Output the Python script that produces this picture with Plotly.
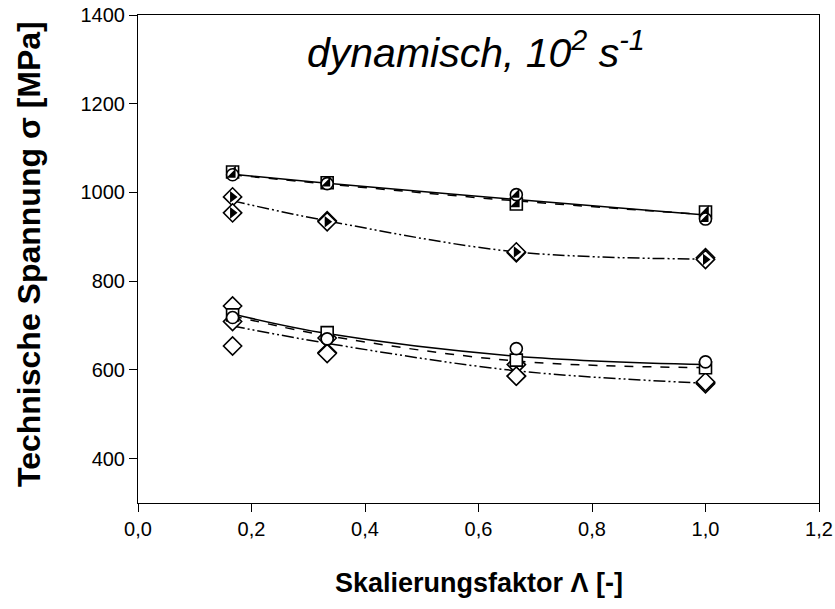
import plotly.graph_objects as go

# ---- data ----
x_pts = [1/6, 1/3, 2/3, 1.0]

# upper cluster (half-filled markers)
sq_hf = [1046, 1022, 974, 956]
ci_hf = [1040, 1020, 995, 940]
di_hf_a = [990, 936, 864, 853]
di_hf_b = [954, 934, 866, 849]

# lower cluster (open markers)
sq_open = [724, 684, 622, 605]
ci_open = [718, 670, 648, 618]
di_open_a = [744, 672, 612, 571]
di_open_b = [709, 639, 586, 569]
di_open_c = [654, 637, 586, 573]

# fit curves
fit_x = [1/6, 1/3, 2/3, 1.0]
fit_up_solid = [1041, 1021, 984, 949]
fit_up_dash = [1040, 1019, 981, 950]
fit_up_dd = [981, 936, 866, 850]
fit_lo_solid = [726, 682, 631, 612]
fit_lo_dash = [722, 677, 620, 605]
fit_lo_dd = [699, 660, 598, 570]

x_ticks = [0.0, 0.2, 0.4, 0.6, 0.8, 1.0, 1.2]
x_ticktext = ["0,0", "0,2", "0,4", "0,6", "0,8", "1,0", "1,2"]
y_ticks = [400, 600, 800, 1000, 1200, 1400]

fig = go.Figure()

DD = "12px,3px,2px,3px,2px,3px"

def fit(y, dash):
    fig.add_trace(go.Scatter(x=fit_x, y=y, mode="lines", line_shape="spline",
                             line=dict(color="black", width=1.5, dash=dash),
                             hoverinfo="skip", showlegend=False))

fit(fit_up_solid, "solid")
fit(fit_up_dash, "dash")
fit(fit_up_dd, DD)
fit(fit_lo_solid, "solid")
fit(fit_lo_dash, "dash")
fit(fit_lo_dd, DD)

def markers(y, symbol, size=11, half=None, half_size=None):
    fig.add_trace(go.Scatter(x=x_pts, y=y, mode="markers",
                             marker=dict(symbol=symbol, size=size, color="white",
                                         line=dict(color="black", width=1.6)),
                             showlegend=False))
    if half:
        fig.add_trace(go.Scatter(x=x_pts, y=y, mode="markers",
                                 marker=dict(symbol=half, size=half_size or size - 2,
                                             color="black", line=dict(width=0)),
                                 showlegend=False))

markers(di_hf_a, "diamond", 14, "triangle-right", 10)
markers(di_hf_b, "diamond", 14, "triangle-right", 10)
markers(sq_hf, "square", 12, "triangle-se", 11)
markers(ci_hf, "circle", 12, "triangle-se", 10)

markers(di_open_a, "diamond", 14)
markers(di_open_b, "diamond", 14)
markers(di_open_c, "diamond", 14)
markers(sq_open, "square", 12)
markers(ci_open, "circle", 12)

FONT = "Liberation Sans, Arial"

# plot area in window pixels: x 138..819, y 15..503
fig.add_annotation(text="<i>dynamisch, 10<sup>2</sup> s<sup>-1</sup></i>",
                   x=(476 - 138) / 681, y=(503 - 50) / 488, xref="paper", yref="paper",
                   showarrow=False, xanchor="center", yanchor="middle",
                   font=dict(family=FONT, size=41, color="black"))

fig.add_annotation(text="<b>Skalierungsfaktor Λ [-]</b>",
                   x=0.5, y=(503 - 583) / 488, xref="paper", yref="paper",
                   showarrow=False, xanchor="center", yanchor="middle",
                   font=dict(family=FONT, size=27, color="black"))

fig.add_annotation(text="<b>Technische Spannung σ [MPa]</b>", textangle=-90,
                   x=(29 - 138) / 681, y=(503 - 254) / 488, xref="paper", yref="paper",
                   showarrow=False, xanchor="center", yanchor="middle",
                   font=dict(family=FONT, size=32, color="black"))

fig.update_layout(
    width=835, height=609,
    margin=dict(l=138, r=16, t=15, b=106, autoexpand=False),
    plot_bgcolor="white", paper_bgcolor="white",
    font=dict(family=FONT, color="black"),
    showlegend=False,
    hovermode=False,
    xaxis=dict(range=[0, 1.2], tickvals=x_ticks, ticktext=x_ticktext,
               ticks="outside", ticklen=8, tickwidth=1, tickcolor="black",
               showline=True, linecolor="black", linewidth=1, mirror=True,
               showgrid=False, zeroline=False, automargin=False,
               ticklabeloverflow="allow",
               tickfont=dict(size=20)),
    yaxis=dict(range=[300, 1400], tickvals=y_ticks,
               ticks="outside", ticklen=8, tickwidth=1, tickcolor="black",
               showline=True, linecolor="black", linewidth=1, mirror=True,
               showgrid=False, zeroline=False, automargin=False,
               ticklabeloverflow="allow",
               tickfont=dict(size=20)),
)

fig.write_html("out.html",
               config={"displayModeBar": False},
               post_script="document.body.style.margin='0';document.body.style.overflow='hidden';")
